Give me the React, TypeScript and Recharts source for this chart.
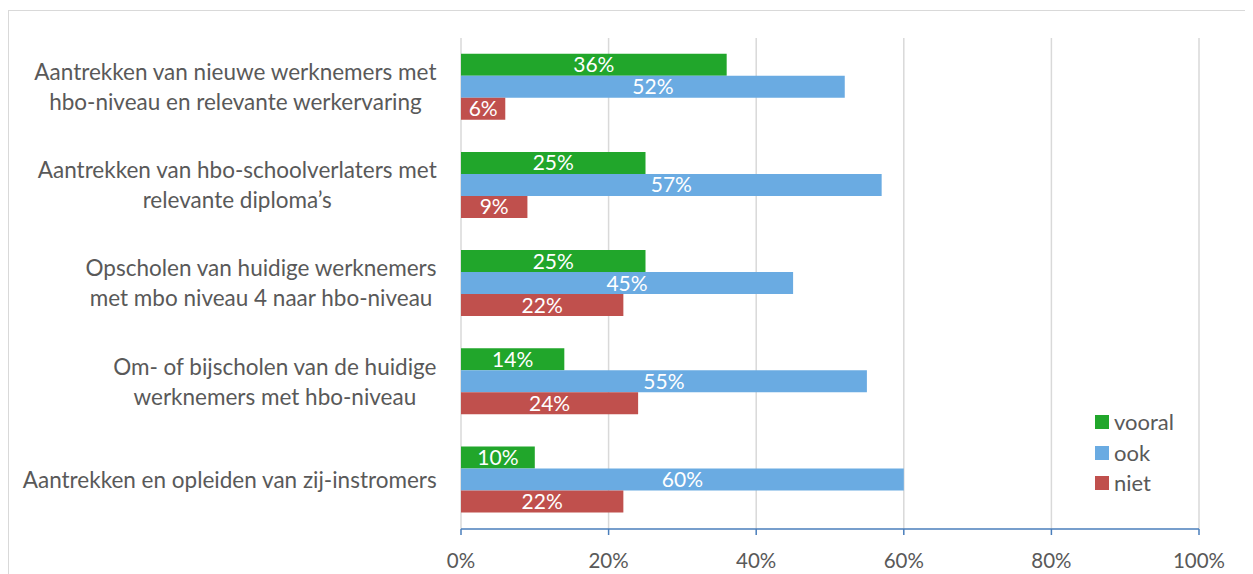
import { BarChart, Bar, XAxis, YAxis, CartesianGrid, LabelList } from "recharts";

const categories = [
  "Aantrekken van nieuwe werknemers met\nhbo-niveau en relevante werkervaring",
  "Aantrekken van hbo-schoolverlaters met\nrelevante diploma’s",
  "Opscholen van huidige werknemers\nmet mbo niveau 4 naar hbo-niveau",
  "Om- of bijscholen van de huidige\nwerknemers met hbo-niveau",
  "Aantrekken en opleiden van zij-instromers",
];
const vooral = [0.36, 0.25, 0.25, 0.14, 0.1];
const ook = [0.52, 0.57, 0.45, 0.55, 0.6];
const niet = [0.06, 0.09, 0.22, 0.24, 0.22];
const xTicks = [0, 0.2, 0.4, 0.6, 0.8, 1];

const SERIES = [
  { key: "vooral", color: "#21a62b" },
  { key: "ook", color: "#6aabe2" },
  { key: "niet", color: "#c0504d" },
];

const FONT = "Lato, 'Liberation Sans', sans-serif";
const TEXT = "#595959";
const CAT_SIZE = 22.5;

const data = categories.map((name, i) => ({
  name,
  vooral: vooral[i],
  ook: ook[i],
  niet: niet[i],
}));

const pct = (v: number) => `${Math.round(v * 100)}%`;

let ctx: CanvasRenderingContext2D | null = null;
function textWidth(s: string): number {
  if (!ctx) ctx = document.createElement("canvas").getContext("2d");
  if (!ctx) return s.length * 10;
  ctx.font = `${CAT_SIZE}px Lato`;
  return ctx.measureText(s).width;
}

// category labels: block right-aligned to the tick x, lines centred in the block
function CategoryTick(props: { x?: number; y?: number; payload?: { value: string } }) {
  const { x = 0, y = 0, payload } = props;
  if (!payload) return null;
  const lines = payload.value.split("\n");
  const w = Math.max(...lines.map(textWidth));
  const cx = x - w / 2;
  const lh = 30;
  const y0 = y - ((lines.length - 1) * lh) / 2;
  return (
    <text x={cx} y={y0} textAnchor="middle" fill={TEXT} fontSize={CAT_SIZE} fontFamily={FONT}>
      {lines.map((l, i) => (
        <tspan key={i} x={cx} y={y0 + i * lh} dy="0.35em">
          {l}
        </tspan>
      ))}
    </text>
  );
}

function LegendBox() {
  return (
    <div
      style={{
        position: "absolute",
        left: 1086,
        top: 396,
        fontFamily: FONT,
        fontSize: 22,
        color: TEXT,
        lineHeight: 1,
      }}
    >
      {SERIES.map((s) => (
        <div key={s.key} style={{ display: "flex", alignItems: "center", height: 30.5 }}>
          <span style={{ width: 14, height: 14, background: s.color, display: "inline-block", marginRight: 5 }} />
          <span>{s.key}</span>
        </div>
      ))}
    </div>
  );
}

export default function App() {
  return (
    <div
      style={{
        position: "relative",
        marginTop: 2,
        width: 1245,
        height: 564,
        borderLeft: "1px solid #d9d9d9",
        borderTop: "1px solid #d9d9d9",
        overflow: "hidden",
      }}
    >
      <BarChart
        layout="vertical"
        width={1244}
        height={563}
        data={data}
        margin={{ top: 27, right: 54, bottom: 15, left: 0 }}
        barCategoryGap="16%"
        barGap={0}
      >
        <CartesianGrid horizontal={false} stroke="#d9d9d9" strokeWidth={1.5} />
        <XAxis
          type="number"
          domain={[0, 1]}
          ticks={xTicks}
          tickFormatter={pct}
          height={30}
          axisLine={{ stroke: "#4a7ebb", strokeWidth: 1.5 }}
          tickLine={{ stroke: "#4a7ebb", strokeWidth: 1.5 }}
          tickSize={6}
          tickMargin={18}
          tick={{ fill: TEXT, fontSize: 20.5, fontFamily: FONT }}
          interval={0}
        />
        <YAxis
          type="category"
          dataKey="name"
          width={452}
          axisLine={false}
          tickLine={false}
          tickSize={0}
          tickMargin={24}
          tick={<CategoryTick />}
          interval={0}
        />
        {SERIES.map((s) => (
          <Bar key={s.key} dataKey={s.key} name={s.key} fill={s.color} isAnimationActive={false}>
            <LabelList
              dataKey={s.key}
              position="center"
              formatter={(v: number) => pct(v)}
              fill="#ffffff"
              fontSize={21}
              fontFamily={FONT}
            />
          </Bar>
        ))}
      </BarChart>
      <LegendBox />
    </div>
  );
}
